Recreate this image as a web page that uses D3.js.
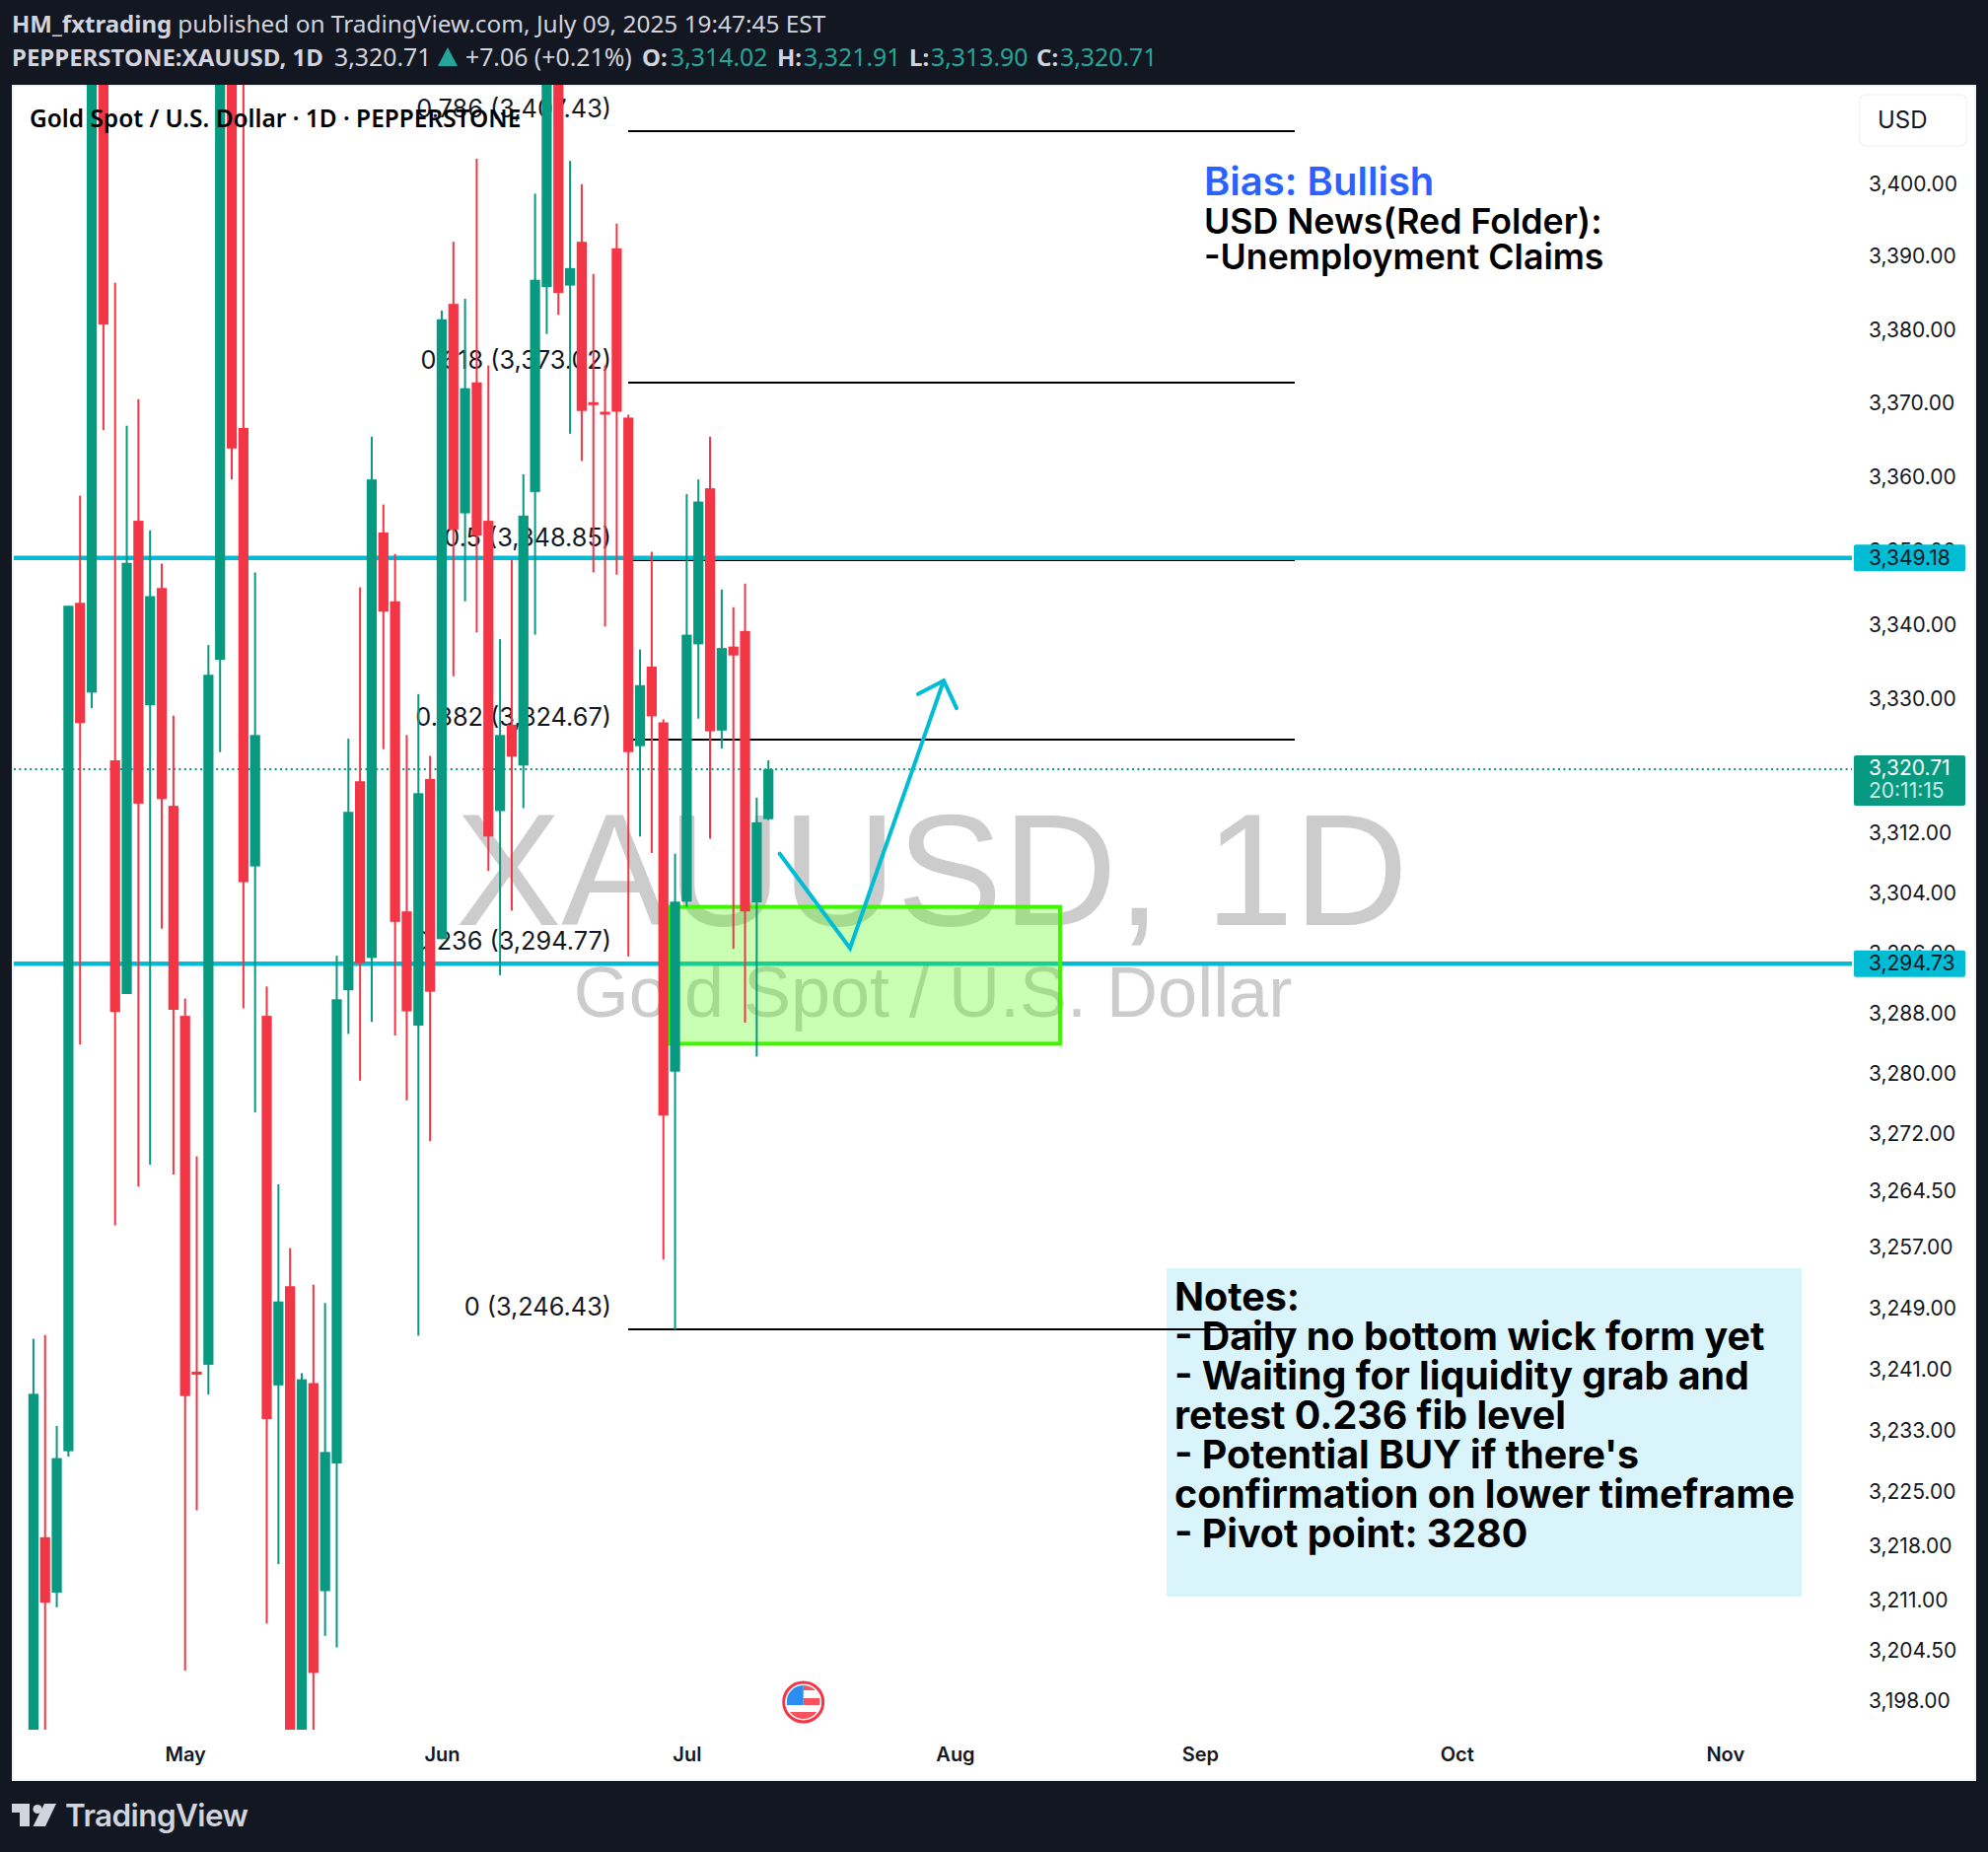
<!DOCTYPE html>
<html>
<head>
<meta charset="utf-8">
<style>
  html, body { margin: 0; padding: 0; background: #131722; }
  svg { display: block; }
  .ui { font-family: "Noto Sans", sans-serif; }
  .in { font-family: Inter, sans-serif; }
</style>
<script src="https://cdn.jsdelivr.net/npm/d3@7"></script>
</head>
<body>
<svg id="chart" width="2016" height="1878"></svg>
<script>
// daily candles (anything past the plot edge is a guess)
const opens = [3188,3219.3,3212.1,3230.5,3343.1,3331.0,3420,3321.9,3290.7,3354.2,
  3329.3,3345.1,3315.8,3287.8,3240.9,3241.8,3335.4,3420,3366.8,3307.7,
  3287.8,3239.1,3252.1,3188,3239.4,3212.3,3228.9,3291.2,3319.1,3295.5,
  3352.6,3343.3,3301.7,3286.5,3319.4,3298.0,3383.7,3355.2,3373.0,3354.2,
  3315.1,3326.7,3321.2,3358.1,3386.0,3420,3386.2,3392.2,3370.3,3369.0,
  3391.3,3368.2,3323.8,3334.5,3327.0,3280.4,3303.0,3337.5,3358.6,3325.9,
  3337.2,3339.3,3302.9,3314.02];
const closes = [3238.0,3210.8,3229.6,3342.7,3326.9,3420,3380.9,3288.3,3348.5,3316.1,
  3344.0,3316.7,3288.6,3237.7,3240.5,3333.4,3420,3364.0,3305.6,3325.3,
  3234.7,3250.1,3188,3239.9,3201.7,3230.4,3290.0,3315.0,3294.8,3359.8,
  3341.9,3300.3,3288.4,3317.5,3291.0,3381.6,3353.0,3372.2,3352.2,3311.7,
  3325.3,3322.4,3354.9,3387.0,3420,3385.2,3388.6,3369.1,3369.9,3368.6,
  3369.0,3323.0,3332.0,3327.8,3274.6,3303.0,3338.8,3356.8,3325.8,3337.0,
  3336.0,3301.7,3313.6,3320.71];
const highs = [3245.2,3245.7,3233.8,3342.7,3357.6,3424,3425,3386.6,3367.1,3370.7,
  3352.9,3348.4,3327.9,3290.1,3269.2,3337.4,3425,3425,3425,3347.2,
  3291.7,3265.5,3257.1,3240.7,3252.3,3249.9,3295.8,3324.8,3345.2,3365.6,
  3356.4,3349.7,3325.3,3330.8,3322.5,3382.8,3392.2,3384.4,3403.6,3375.3,
  3338.2,3348.9,3360.5,3398.8,3425,3425,3403.3,3400.1,3387.8,3375.3,
  3394.7,3368.6,3336.8,3350.0,3327.4,3309.4,3357.8,3359.8,3365.6,3344.9,
  3342.5,3345.7,3316.9,3321.91];
const lows = [3185,3186,3210.2,3229.8,3284.0,3328.9,3366.5,3260.1,3290.7,3265.2,
  3268.1,3299.4,3266.8,3202.0,3222.8,3237.9,3323.0,3359.8,3288.8,3275.0,
  3208.1,3215.8,3186,3186,3186,3206.5,3205.0,3285.4,3279.2,3287.0,
  3323.4,3285.2,3276.6,3245.6,3271.2,3298.0,3333.2,3343.3,3339.1,3307.1,
  3293.2,3301.8,3315.5,3338.8,3379.6,3382.2,3366.0,3362.3,3347.2,3339.9,
  3346.9,3295.7,3311.7,3309.5,3255.6,3246.43,3302.3,3327.5,3311.4,3323.5,
  3296.7,3286.9,3282.4,3313.9];

const priceTicks = [3400,3390,3380,3370,3360,3350,3340,3330,3312,3304,3296,3288,3280,3272,
  3264.5,3257,3249,3241,3233,3225,3218,3211,3204.5,3198];
const monthBars = [13,35,56,79,100,122,145];
const monthNames = ['May','Jun','Jul','Aug','Sep','Oct','Nov'];

const fibLevels = ['0.786','0.618','0.5','0.382','0.236','0'];
const fibPrices = [3407.43,3373.02,3348.85,3324.67,3294.77,3246.43];
const fibBars = [50.95,108.1];

const hLines = [3349.18,3294.73];
const lastPrice = 3320.71;
const zoneBars = [54.53,88];
const zonePrices = [3302.3,3284.1];
const arrowBars = [63.97,70,78.03];
const arrowPrices = [3309.4,3296.8,3332.6];
const headBars = [75.83,78.03,79.13];
const headPrices = [3330.8,3332.6,3328.9];

const noteLines = ['Notes:','- Daily no bottom wick form yet','- Waiting for liquidity grab and',
  'retest 0.236 fib level',"- Potential BUY if there's",'confirmation on lower timeframe','- Pivot point: 3280'];

const up = '#089981', down = '#f23645', cyan = '#00bcd4', ink = '#131722', pale = '#d1d4dc', teal = '#26a69a';
const fmt = d3.format(',.2f');

const svg = d3.select('#chart');

const x = d3.scaleLinear().domain([0,63]).range([33.9,779.2]);
const y = d3.scaleLog().domain([3400,3198]).range([187.5,1725.5]);
const barW = x(1) - x(0) - 1.6;

// panel
svg.append('rect').attr('x',12).attr('y',86).attr('width',1992).attr('height',1720).attr('fill','#f0f3fa');
svg.append('rect').attr('x',14).attr('y',88).attr('width',1988).attr('height',1716).attr('fill','#fff');

svg.append('defs').append('clipPath').attr('id','plot')
  .append('rect').attr('x',14).attr('y',86).attr('width',1864).attr('height',1668);

const plot = svg.append('g').attr('clip-path','url(#plot)');

// watermark
plot.append('text').attr('x',945).attr('y',938).attr('text-anchor','middle')
  .attr('font-family','"Liberation Sans"').attr('font-size',161).attr('fill','#cccccc').text('XAUUSD, 1D');
plot.append('text').attr('x',946).attr('y',1031).attr('text-anchor','middle')
  .attr('font-family','"Liberation Sans"').attr('font-size',72).attr('fill','#cccccc').text('Gold Spot / U.S. Dollar');

// notes box sits under the fib lines
plot.append('rect').attr('x',1183).attr('y',1286).attr('width',644).attr('height',333).attr('fill','#d9f4fa');
plot.append('g').selectAll('text').data(noteLines).enter().append('text')
  .attr('class','in').attr('x',1191).attr('y',(d,i) => 1329 + i*40)
  .attr('font-size',39.4).attr('font-weight',700).attr('fill','#000').text(d => d);

// fib retracement
plot.append('g').selectAll('line').data(fibPrices).enter().append('line')
  .attr('x1',x(fibBars[0])).attr('x2',x(fibBars[1]))
  .attr('y1',d => y(d)).attr('y2',d => y(d))
  .attr('stroke','#000').attr('stroke-width',2).attr('shape-rendering','crispEdges');
plot.append('g').selectAll('text').data(fibPrices).enter().append('text')
  .attr('class','in').attr('x',620).attr('y',d => y(d) - 14).attr('text-anchor','end')
  .attr('font-size',25.3).attr('fill',ink)
  .text((d,i) => `${fibLevels[i]} (${fmt(d)})`);

// horizontal levels
plot.append('g').selectAll('line').data(hLines).enter().append('line')
  .attr('x1',14).attr('x2',1878).attr('y1',d => y(d)).attr('y2',d => y(d))
  .attr('stroke',cyan).attr('stroke-width',4.5);
plot.append('line').attr('x1',14).attr('x2',1878).attr('y1',y(lastPrice)).attr('y2',y(lastPrice))
  .attr('stroke',up).attr('stroke-width',2).attr('stroke-dasharray','2 3.4');

// zone
plot.append('rect')
  .attr('x',x(zoneBars[0])).attr('y',y(zonePrices[0]))
  .attr('width',x(zoneBars[1]) - x(zoneBars[0])).attr('height',y(zonePrices[1]) - y(zonePrices[0]))
  .attr('fill','rgba(76,255,0,0.3)').attr('stroke','#3ff500').attr('stroke-width',4);

// candles
const bars = plot.append('g').selectAll('g').data(opens).enter().append('g')
  .attr('fill',(d,i) => closes[i] >= d ? up : down);
bars.append('rect')
  .attr('x',(d,i) => x(i) - 1).attr('width',2)
  .attr('y',(d,i) => y(highs[i])).attr('height',(d,i) => y(lows[i]) - y(highs[i]));
bars.append('rect')
  .attr('x',(d,i) => x(i) - barW/2).attr('width',barW)
  .attr('y',(d,i) => y(Math.max(d,closes[i])))
  .attr('height',(d,i) => Math.max(2, Math.abs(y(d) - y(closes[i]))));

// drawn path
const line = d3.line().x(d => x(d[0])).y(d => y(d[1]));
plot.append('path').attr('d',line(arrowBars.map((b,i) => [b,arrowPrices[i]])))
  .attr('fill','none').attr('stroke',cyan).attr('stroke-width',4).attr('stroke-linecap','round');
plot.append('path').attr('d',line(headBars.map((b,i) => [b,headPrices[i]])))
  .attr('fill','none').attr('stroke',cyan).attr('stroke-width',4).attr('stroke-linecap','round');

// flag marker
const flag = plot.append('g').attr('transform',`translate(${x(66)},1726)`);
flag.append('clipPath').attr('id','flagClip').append('circle').attr('r',17);
flag.append('circle').attr('r',20).attr('fill','#fff').attr('stroke',down).attr('stroke-width',3);
const fl = flag.append('g').attr('clip-path','url(#flagClip)');
fl.append('rect').attr('x',-17).attr('y',-17).attr('width',34).attr('height',34).attr('fill','#fff');
fl.append('rect').attr('x',0).attr('y',-17).attr('width',17).attr('height',5).attr('fill','#f7525f');
fl.append('rect').attr('x',0).attr('y',-4).attr('width',17).attr('height',7).attr('fill','#f7525f');
fl.append('rect').attr('x',-17).attr('y',10).attr('width',34).attr('height',7).attr('fill','#f7525f');
fl.append('rect').attr('x',-17).attr('y',-17).attr('width',17).attr('height',20).attr('fill','#2b8df0');

// title on top of the candles
svg.append('text').attr('class','ui').attr('x',30).attr('y',129)
  .attr('font-size',24.45).attr('font-weight',600).attr('fill','#000')
  .text('Gold Spot / U.S. Dollar · 1D · PEPPERSTONE');

// annotation
svg.append('text').attr('class','in').attr('x',1221).attr('y',198)
  .attr('font-size',40).attr('font-weight',600).attr('fill','#2962ff').text('Bias: Bullish');
svg.append('text').attr('class','in').attr('x',1221).attr('y',237)
  .attr('font-size',35.7).attr('font-weight',600).attr('fill','#000').text('USD News(Red Folder):');
svg.append('text').attr('class','in').attr('x',1221).attr('y',273)
  .attr('font-size',35.7).attr('font-weight',600).attr('fill','#000').text('-Unemployment Claims');

// price axis
const yAxis = svg.append('g').attr('class','in').attr('transform','translate(1895,-1.2)')
  .call(d3.axisRight(y).tickValues(priceTicks).tickFormat(fmt).tickSize(0).tickPadding(0));
yAxis.select('.domain').remove();
yAxis.selectAll('text').attr('font-size',21).attr('font-family','Inter').attr('fill',ink);

// month axis
const xAxis = svg.append('g').attr('class','in').attr('transform','translate(0,1754)')
  .call(d3.axisBottom(x).tickValues(monthBars).tickFormat((d,i) => monthNames[i]).tickSize(0).tickPadding(18));
xAxis.select('.domain').remove();
xAxis.selectAll('text').attr('font-size',20).attr('font-weight',600).attr('font-family','Inter').attr('fill',ink);

// price tags
function tag(price, bg, fg) {
  const yy = y(price);
  svg.append('rect').attr('x',1880).attr('y',yy - 13.5).attr('width',113).attr('height',27).attr('rx',2).attr('fill',bg);
  svg.append('text').attr('class','in').attr('x',1895).attr('y',yy + 7)
    .attr('font-size',21).attr('fill',fg).text(fmt(price));
}
hLines.forEach(p => tag(p,cyan,ink));
svg.append('rect').attr('x',1880).attr('y',766).attr('width',113).attr('height',51).attr('rx',2).attr('fill',up);
svg.append('text').attr('class','in').attr('x',1895).attr('y',786)
  .attr('font-size',21).attr('fill','#fff').text(fmt(lastPrice));
svg.append('text').attr('class','in').attr('x',1895).attr('y',809)
  .attr('font-size',21).attr('fill','#c6ece5').text('20:11:15');

// currency button
svg.append('rect').attr('x',1885.5).attr('y',96).attr('width',109).attr('height',52).attr('rx',7)
  .attr('fill','#fff').attr('stroke','#f0f3fa').attr('stroke-width',1.5);
svg.append('text').attr('class','in').attr('x',1904).attr('y',130)
  .attr('font-size',24).attr('fill',ink).text('USD');

// header
const head1 = svg.append('text').attr('class','ui').attr('x',12).attr('y',33).attr('fill',pale);
head1.append('tspan').attr('font-size',24).attr('font-weight',700).text('HM_fxtrading');
head1.append('tspan').attr('dx',6).attr('font-size',24.4).text('published on TradingView.com, July 09, 2025 19:47:45 EST');

const headBits = [
  ['PEPPERSTONE:XAUUSD, 1D',12,700,pale,24],['3,320.71',339,400,pale,24.8],['+7.06 (+0.21%)',472,400,pale,24.8],
  ['O:',651,700,pale,24],['3,314.02',680,400,teal,24.8],['H:',788,700,pale,24],['3,321.91',815,400,teal,24.8],
  ['L:',922,700,pale,24],['3,313.90',944,400,teal,24.8],['C:',1051,700,pale,24],['3,320.71',1075,400,teal,24.8]];
svg.append('g').selectAll('text').data(headBits).enter().append('text')
  .attr('class','ui').attr('x',d => d[1]).attr('y',67).attr('font-size',d => d[4])
  .attr('font-weight',d => d[2]).attr('fill',d => d[3]).text(d => d[0]);
svg.append('path').attr('d','M444,67 L454,48 L464,67 Z').attr('fill',teal);

// footer logo
const logo = svg.append('g').attr('fill',pale);
logo.append('path').attr('d','M12,1829 H30 V1852 H20 V1838 H12 Z');
logo.append('circle').attr('cx',38).attr('cy',1834.5).attr('r',4.6);
logo.append('path').attr('d','M45,1829 H57 L46,1852 H33.5 Z');
svg.append('text').attr('class','in').attr('x',66).attr('y',1852)
  .attr('font-size',31.5).attr('font-weight',600).attr('letter-spacing',-0.6).attr('fill',pale).text('TradingView');
</script>
</body>
</html>
